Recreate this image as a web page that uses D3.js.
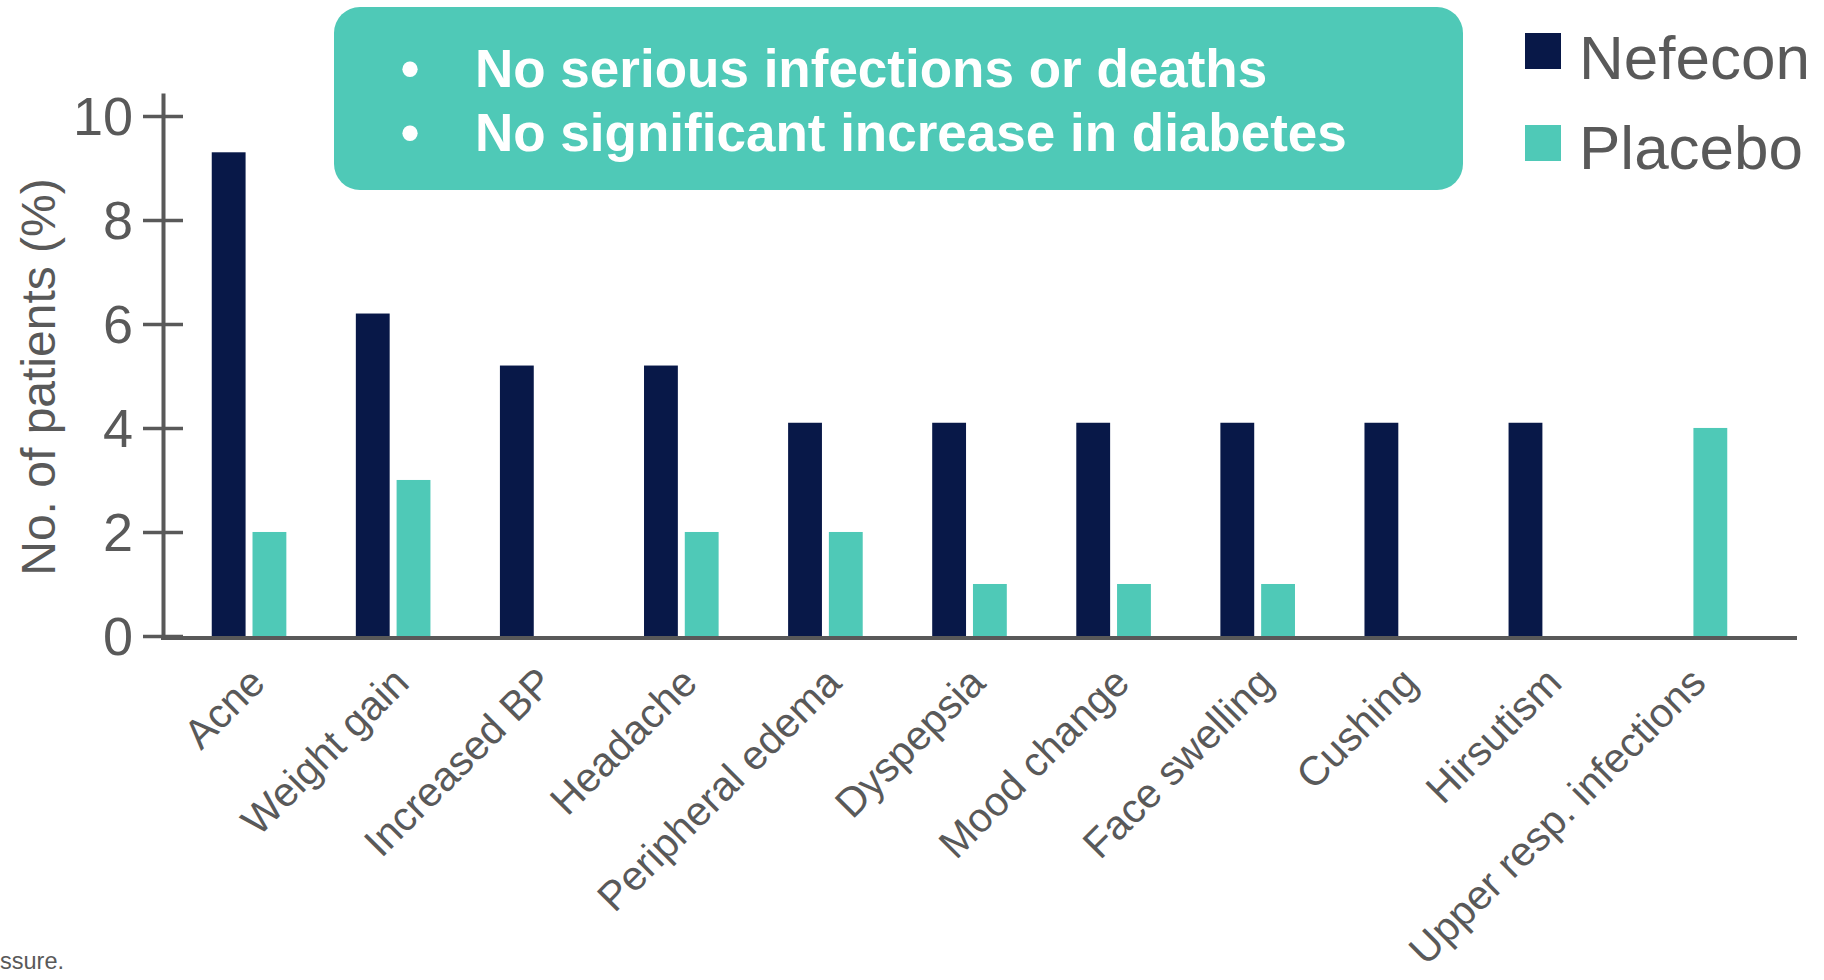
<!DOCTYPE html>
<html>
<head>
<meta charset="utf-8">
<script src="https://cdn.jsdelivr.net/npm/d3@7"></script>
<style>
  html, body { margin: 0; padding: 0; background: #ffffff; }
  svg { display: block; font-family: Arial, "Liberation Sans", sans-serif; }
</style>
</head>
<body>
<svg id="chart" width="1824" height="980"></svg>
<script>
// Adverse events by treatment arm
const categories = [
  "Acne", "Weight gain", "Increased BP", "Headache", "Peripheral edema",
  "Dyspepsia", "Mood change", "Face swelling", "Cushing", "Hirsutism",
  "Upper resp. infections"
];
const seriesNames = ["Nefecon", "Placebo"];
const nefecon = [9.3, 6.2, 5.2, 5.2, 4.1, 4.1, 4.1, 4.1, 4.1, 4.1, 0];
const placebo = [2.0, 3.0, 0, 2.0, 2.0, 1.0, 1.0, 1.0, 0, 0, 4.0];
const yTicks = [0, 2, 4, 6, 8, 10];
const yTitle = "No. of patients (%)";
const bullets = ["No serious infections or deaths", "No significant increase in diabetes"];
const footnote = "ssure.";

const colors = { Nefecon: "#081848", Placebo: "#4FC9B7" };
const grey = "#595959";

const svg = d3.select("#chart");

// scales
const x0 = d3.scaleBand().domain(categories).range([177, 1762]).paddingInner(0).paddingOuter(0);
const pairWidth = 74.6;
const x1 = d3.scaleBand().domain(seriesNames).range([0, pairWidth]).paddingInner(0.17);
const y = d3.scaleLinear().domain([0, 10.44]).range([636, 93]);

const axisX = 163;
const baseY = 638;

// bars
const rows = [];
categories.forEach((c, i) => {
  rows.push({ cat: c, series: "Nefecon", value: nefecon[i] });
  rows.push({ cat: c, series: "Placebo", value: placebo[i] });
});
const offset = (x0.bandwidth() - pairWidth) / 2;
svg.append("g").selectAll("rect")
  .data(rows.filter(d => d.value > 0))
  .join("rect")
  .attr("x", d => x0(d.cat) + offset + x1(d.series))
  .attr("y", d => y(d.value))
  .attr("width", x1.bandwidth())
  .attr("height", d => y(0) - y(d.value))
  .attr("fill", d => colors[d.series]);

// y axis with crossing ticks
const yAxis = svg.append("g")
  .attr("transform", `translate(${axisX},0)`)
  .call(d3.axisLeft(y).tickValues(yTicks).tickSize(20).tickSizeOuter(0).tickPadding(0));
yAxis.select(".domain").attr("stroke", grey).attr("stroke-width", 4);
yAxis.selectAll(".tick line").attr("x1", -20).attr("x2", 20)
  .attr("stroke", grey).attr("stroke-width", 3.5);
yAxis.selectAll(".tick text")
  .attr("x", -30).attr("dy", "0.35em")
  .attr("fill", grey).attr("font-size", 54)
  .attr("font-family", "Arial, 'Liberation Sans', sans-serif");

// x axis baseline
svg.append("line")
  .attr("x1", axisX - 2).attr("x2", 1797)
  .attr("y1", baseY).attr("y2", baseY)
  .attr("stroke", grey).attr("stroke-width", 4);

// category labels
const xAxis = svg.append("g")
  .attr("transform", `translate(0,${baseY})`)
  .call(d3.axisBottom(x0).tickSize(0));
xAxis.select(".domain").remove();
xAxis.selectAll(".tick text")
  .attr("text-anchor", "end")
  .attr("x", 0).attr("y", 0).attr("dy", 0)
  .attr("transform", "translate(18,47) rotate(-45)")
  .attr("fill", grey).attr("font-size", 41)
  .attr("font-family", "Arial, 'Liberation Sans', sans-serif");

// y title
svg.append("text")
  .attr("transform", "translate(38,377) rotate(-90)")
  .attr("text-anchor", "middle")
  .attr("dominant-baseline", "central")
  .attr("fill", grey).attr("font-size", 48)
  .text(yTitle);

// callout box
const box = svg.append("g");
box.append("rect")
  .attr("x", 334).attr("y", 7).attr("width", 1129).attr("height", 183)
  .attr("rx", 26).attr("ry", 26)
  .attr("fill", "#4FC9B7");
bullets.forEach((t, i) => {
  const by = 87 + i * 64;
  box.append("text").attr("x", 410).attr("y", by).attr("text-anchor", "middle")
    .attr("fill", "#ffffff").attr("font-size", 53).attr("font-weight", "bold").text("•");
  box.append("text").attr("x", 475).attr("y", by)
    .attr("fill", "#ffffff").attr("font-size", 53).attr("font-weight", "bold").text(t);
});

// legend
const legend = svg.append("g");
seriesNames.forEach((s, i) => {
  legend.append("rect")
    .attr("x", 1525).attr("y", 33 + i * 92)
    .attr("width", 36).attr("height", 36)
    .attr("fill", colors[s]);
  legend.append("text")
    .attr("x", 1579).attr("y", 79 + i * 90)
    .attr("fill", grey).attr("font-size", 62).text(s);
});

// footnote
svg.append("text")
  .attr("x", 64).attr("y", 969).attr("text-anchor", "end")
  .attr("fill", grey).attr("font-size", 23.5)
  .text(footnote);
</script>
</body>
</html>
